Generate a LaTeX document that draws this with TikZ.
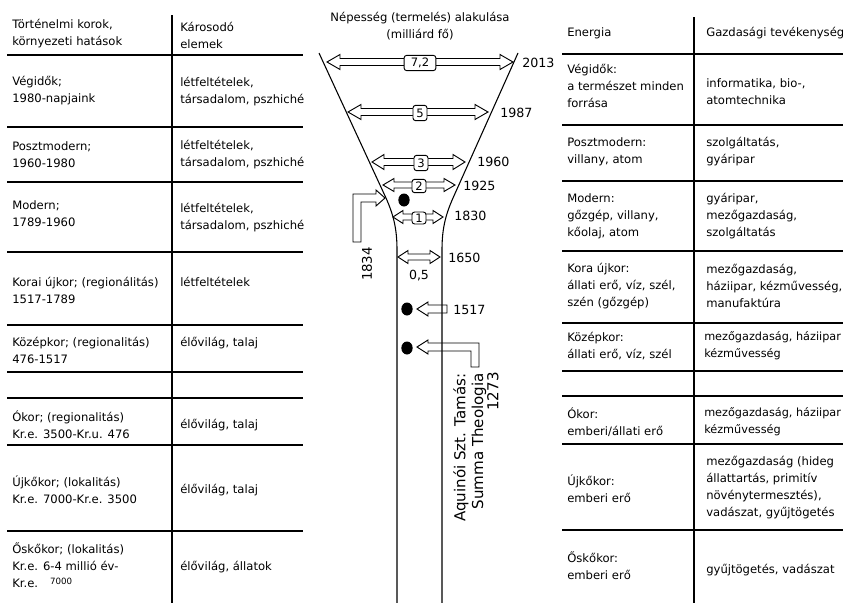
\documentclass[tikz,border=0pt]{standalone}
\usepackage{fontspec}
\setmainfont{DejaVu Sans}
\usetikzlibrary{shapes.geometric}
\newcommand\fnorm{\fontsize{8.7}{12.75}\selectfont}
\newcommand\fnarrow{\fontsize{8.45}{12.75}\selectfont}
\newcommand\dblarr[6]{%
  \draw[hollow] (#1,#3) -- ({#1+#4},{#3-#5}) -- ({#1+#4},{#3-#6}) -- ({#2-#4},{#3-#6}) -- ({#2-#4},{#3-#5}) -- (#2,#3) -- ({#2-#4},{#3+#5}) -- ({#2-#4},{#3+#6}) -- ({#1+#4},{#3+#6}) -- ({#1+#4},{#3+#5}) -- cycle;}
\tikzset{
  txt/.style={anchor=west, align=left, inner sep=0pt, font=\fnorm},
  rule/.style={line width=1.5pt},
  vrule/.style={line width=1.4pt},
  funnel/.style={line width=0.8pt},
  hollow/.style={draw, line width=0.7pt, line join=miter},
  valbox/.style={draw, fill=white, rounded corners=2pt, inner xsep=2.5pt, inner ysep=0pt, minimum height=11.5pt, line width=0.7pt, font=\fnorm},
  dot/.style={ellipse, fill=black, minimum width=8.5pt, minimum height=9.75pt, inner sep=0pt},
  year/.style={anchor=west, inner sep=0pt, font=\fontsize{9.5}{11}\selectfont},
  rottxt/.style={rotate=90, anchor=east, inner sep=0pt, font=\fontsize{11.3}{14}\selectfont}
}
\begin{document}
\begin{tikzpicture}[x=0.75pt,y=-0.75pt]
\useasboundingbox (0,0) rectangle (843,603);
\clip (0,0) rectangle (843,603);
% ---------------- left table
\foreach \yy in {55,127,182,252,325,372,398,445,531} \draw[rule] (7,\yy) -- (303,\yy);
\draw[vrule] (172,15) -- (172,603);
\node[txt] (l0a) at (12,34) {Történelmi korok,\\környezeti hatások};
\node[txt] (l0b) at (180,35) {Károsodó\\elemek};
\node[txt] (l1a) at (12,91) {Végidők;\\1980-napjaink};
\node[txt] (l1b) at (180,92) {létfeltételek,\\társadalom, pszhiché};
\node[txt] (l2a) at (12,155) {Posztmodern;\\1960-1980};
\node[txt] (l2b) at (180,155) {létfeltételek,\\társadalom, pszhiché};
\node[txt] (l3a) at (12,214) {Modern;\\1789-1960};
\node[txt] (l3b) at (180,218) {létfeltételek,\\társadalom, pszhiché};
\node[txt] (l4a) at (12,290) {Korai újkor; (regionálitás)\\1517-1789};
\node[txt] (l4b) at (180,282) {létfeltételek};
\node[txt] (l5a) at (12,350) {Középkor; (regionalitás)\\476-1517};
\node[txt] (l5b) at (180,343) {élővilág, talaj};
\node[txt] (l7a) at (12,425) {Ókor; (regionalitás)\\Kr.e. 3500-Kr.u. 476};
\node[txt] (l7b) at (180,425) {élővilág, talaj};
\node[txt] (l8a) at (12,490) {Újkőkor; (lokalitás)\\Kr.e. 7000-Kr.e. 3500};
\node[txt] (l8b) at (180,490) {élővilág, talaj};
\node[txt] (l9a) at (12,565) {Őskőkor; (lokalitás)\\Kr.e. 6-4 millió év-\\Kr.e.\hspace{9pt}\raisebox{2pt}{\fontsize{6.5}{7}\selectfont 7000}};
\node[txt] (l9b) at (180,567) {élővilág, állatok};
% ---------------- right table
\foreach \yy in {54,125,181,251,323,371,396,444,530} \draw[rule] (562,\yy) -- (843,\yy);
\draw[vrule] (694,17) -- (694,603);
\node[txt] (r0a) at (567,33) {Energia};
\node[txt] (r0b) at (706,33) {Gazdasági tevékenység};
\node[txt] (r1a) at (567,86) {Végidők:\\a természet minden\\forrása};
\node[txt] (r1b) at (706,92) {informatika, bio-,\\atomtechnika};
\node[txt] (r2a) at (567,152) {Posztmodern:\\villany, atom};
\node[txt] (r2b) at (706,152) {szolgáltatás,\\gyáripar};
\node[txt] (r3a) at (567,216) {Modern:\\gőzgép, villany,\\kőolaj, atom};
\node[txt] (r3b) at (706,216) {gyáripar,\\mezőgazdaság,\\szolgáltatás};
\node[txt] (r4a) at (567,286) {Kora újkor:\\állati erő, víz, szél,\\szén (gőzgép)};
\node[txt] (r4b) at (706,286) {mezőgazdaság,\\háziipar, kézművesség,\\manufaktúra};
\node[txt] (r5a) at (567,346) {Középkor:\\állati erő, víz, szél};
\node[txt, font=\fnarrow] (r5b) at (704,346) {mezőgazdaság, háziipar\\kézművesség};
\node[txt] (r7a) at (567,422) {Ókor:\\emberi/állati erő};
\node[txt, font=\fnarrow] (r7b) at (704,422) {mezőgazdaság, háziipar\\kézművesség};
\node[txt] (r8a) at (567,489) {Újkőkor:\\emberi erő};
\node[txt] (r8b) at (706,488) {mezőgazdaság (hideg\\állattartás, primitív\\növénytermesztés),\\vadászat, gyűjtögetés};
\node[txt] (r9a) at (567,566) {Őskőkor:\\emberi erő};
\node[txt] (r9b) at (706,570) {gyűjtögetés, vadászat};
% ---------------- centre
\node[font=\fnorm, align=center, inner sep=0pt] (title) at (420,26) {Népesség (termelés) alakulása\\(milliárd fő)};
\draw[funnel] (319,53) -- (386,198) .. controls (394,216) and (397,230) .. (397,250) -- (397,603);
\draw[funnel] (518,53) -- (453,198) .. controls (445,216) and (442,230) .. (442,250) -- (442,603);
\dblarr{327}{513}{62}{13}{7.5}{3.5}
\dblarr{348}{488}{112}{13}{7.5}{3.5}
\dblarr{372}{465}{162}{12}{7.5}{3.5}
\dblarr{383}{455}{185}{11}{6.5}{3}
\dblarr{393}{443}{217}{10}{6.5}{3}
\dblarr{398}{440}{257}{10}{6.5}{3}
\node[valbox, inner xsep=5pt] (v72) at (420,63) {7,2};
\node[valbox] (v5) at (420,113) {5};
\node[valbox] (v3) at (421,163) {3};
\node[valbox, minimum height=10pt] (v2) at (419,186) {2};
\node[valbox, minimum height=9pt] (v1) at (419,218) {1};
\node[font=\fontsize{9.4}{11}\selectfont, inner sep=0pt] (v05) at (419,276) {0,5};
\node[year] (y2013) at (522,63) {2013};
\node[year] (y1987) at (500,113) {1987};
\node[year] (y1960) at (477,162) {1960};
\node[year] (y1925) at (463,186) {1925};
\node[year] (y1830) at (454,216) {1830};
\node[year] (y1650) at (448,258) {1650};
\node[year] (y1517) at (453,310) {1517};
% dots
\node[dot] (d1) at (404,200) {};
\node[dot] (d2) at (407,309) {};
\node[dot] (d3) at (407,348) {};
% 1834 arrow
\draw[hollow] (353,242) -- (353,194) -- (376,194) -- (376,190) -- (385,198) -- (376,206) -- (376,202) -- (361,202) -- (361,242) -- cycle;
\node[font=\fontsize{10}{12}\selectfont, rotate=90, inner sep=0pt] (y1834) at (367,264) {1834};
% 1517 arrow
\draw[hollow] (417,309) -- (428,302) -- (428,305) -- (447,305) -- (447,313) -- (428,313) -- (428,316) -- cycle;
% 1273 arrow
\draw[hollow] (417,347) -- (428,340) -- (428,343) -- (479,343) -- (479,367) -- (471,367) -- (471,351) -- (428,351) -- (428,354) -- cycle;
\node[rottxt] (aq1) at (461,373) {Aquinói Szt. Tamás:};
\node[rottxt] (aq2) at (479,373) {Summa Theologia};
\node[rottxt] (aq3) at (493,372) {1273};
\end{tikzpicture}
\end{document}
